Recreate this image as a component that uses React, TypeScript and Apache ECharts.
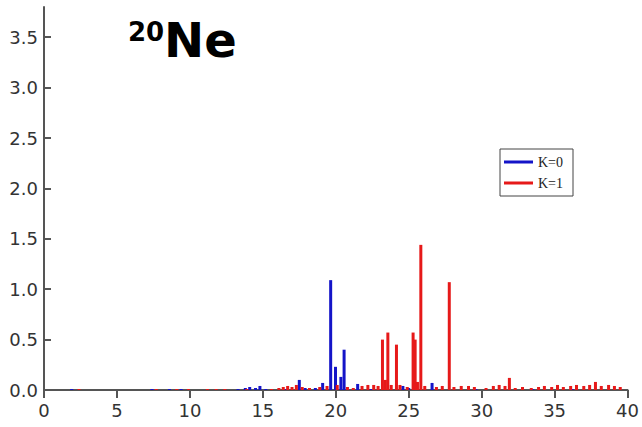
import React, { useEffect, useRef } from "react";
import * as echarts from "echarts";

const xTicks = [0, 5, 10, 15, 20, 25, 30, 35, 40];
const yTicks = [0, 0.5, 1, 1.5, 2, 2.5, 3, 3.5];

const k0Energy = [1.9, 7.4, 8.6, 9.4, 13.3, 13.8, 14.1, 14.5, 14.8, 15.2, 16.6, 17.5, 17.9, 18.6, 19.1, 19.65, 19.98, 20.35, 20.57, 21.5, 22.4, 24.6, 25.0, 26.6, 29.6, 33.5, 36.2];
const k0Strength = [0.01, 0.01, 0.01, 0.01, 0.01, 0.02, 0.03, 0.02, 0.04, 0.01, 0.01, 0.10, 0.02, 0.02, 0.07, 1.09, 0.23, 0.13, 0.40, 0.06, 0.01, 0.04, 0.02, 0.07, 0.01, 0.01, 0.01];

const k1Energy = [2.4, 7.7, 9.1, 9.9, 11.2, 11.8, 12.4, 13.9, 15.6, 16.1, 16.4, 16.7, 17.0, 17.3, 17.7, 18.2, 18.9, 19.4, 20.1, 20.8, 21.2, 21.8, 22.2, 22.6, 22.9, 23.2, 23.4, 23.57, 23.8, 24.16, 24.4, 24.9, 25.3, 25.44, 25.6, 25.83, 26.1, 26.9, 27.3, 27.78, 28.1, 28.6, 29.1, 29.5, 30.3, 30.8, 31.2, 31.6, 31.9, 32.3, 32.8, 33.4, 33.9, 34.3, 34.8, 35.2, 35.6, 36.1, 36.5, 37.0, 37.4, 37.8, 38.2, 38.7, 39.1, 39.5];
const k1Strength = [0.01, 0.01, 0.01, 0.01, 0.01, 0.01, 0.01, 0.01, 0.01, 0.02, 0.03, 0.04, 0.03, 0.05, 0.03, 0.02, 0.03, 0.04, 0.05, 0.03, 0.02, 0.04, 0.05, 0.05, 0.04, 0.50, 0.10, 0.57, 0.05, 0.45, 0.05, 0.03, 0.57, 0.50, 0.08, 1.44, 0.04, 0.03, 0.04, 1.07, 0.03, 0.04, 0.04, 0.03, 0.02, 0.04, 0.05, 0.04, 0.12, 0.02, 0.03, 0.02, 0.03, 0.04, 0.03, 0.05, 0.03, 0.04, 0.05, 0.04, 0.05, 0.08, 0.04, 0.05, 0.04, 0.03];

const BLUE = "#1414c8";
const RED = "#e61919";

export default function App() {
  const ref = useRef<HTMLDivElement>(null);
  useEffect(() => {
    if (!ref.current) return;
    const chart = echarts.init(ref.current, null, { renderer: "svg" });
    const labelFont = { fontFamily: "DejaVu Sans", fontSize: 18, color: "#333" };
    chart.setOption({
      animation: false,
      backgroundColor: "#fff",
      grid: { left: 44, right: 10, top: 7, bottom: 37, containLabel: false },
      legend: {
        left: 500,
        top: 149,
        orient: "vertical",
        icon: "rect",
        itemWidth: 29,
        itemHeight: 3,
        itemGap: 7,
        padding: [6, 10, 6, 4],
        borderColor: "#444",
        borderWidth: 1,
        textStyle: { fontFamily: "Liberation Serif", fontSize: 14, color: "#222" },
        data: ["K=0", "K=1"],
      },
      graphic: [
        { type: "text", left: 128, top: 19, style: { text: "20", fontFamily: "DejaVu Sans", fontWeight: "bold", fontSize: 26, fill: "#000" } },
        { type: "text", left: 164, top: 16, style: { text: "Ne", fontFamily: "DejaVu Sans", fontWeight: "bold", fontSize: 48, fill: "#000" } },
      ],
      xAxis: {
        type: "value",
        min: 0,
        max: 40,
        interval: 5,
        axisLine: { show: true, onZero: false, lineStyle: { color: "#555", width: 2 } },
        axisTick: { show: true, inside: false, length: 8, lineStyle: { color: "#555", width: 2 }, customValues: xTicks },
        axisLabel: { ...labelFont, margin: 11, customValues: xTicks },
        splitLine: { show: false },
      },
      yAxis: {
        type: "value",
        min: 0,
        max: 3.8,
        axisLine: { show: true, lineStyle: { color: "#555", width: 2 } },
        axisTick: { show: true, inside: true, length: 7, lineStyle: { color: "#555", width: 2 }, customValues: yTicks },
        axisLabel: { ...labelFont, margin: 6, customValues: yTicks, formatter: (v: number) => v.toFixed(1) },
        splitLine: { show: false },
      },
      series: [
        {
          name: "K=0",
          type: "bar",
          barWidth: 3,
          barGap: "-100%",
          itemStyle: { color: BLUE },
          data: k0Energy.map((e, i) => [e, k0Strength[i]]),
        },
        {
          name: "K=1",
          type: "bar",
          barWidth: 3,
          barGap: "-100%",
          itemStyle: { color: RED },
          data: k1Energy.map((e, i) => [e, k1Strength[i]]),
        },
      ],
    });
    return () => chart.dispose();
  }, []);
  return <div ref={ref} style={{ width: 642, height: 427, position: "absolute", left: 0, top: 0 }} />;
}
